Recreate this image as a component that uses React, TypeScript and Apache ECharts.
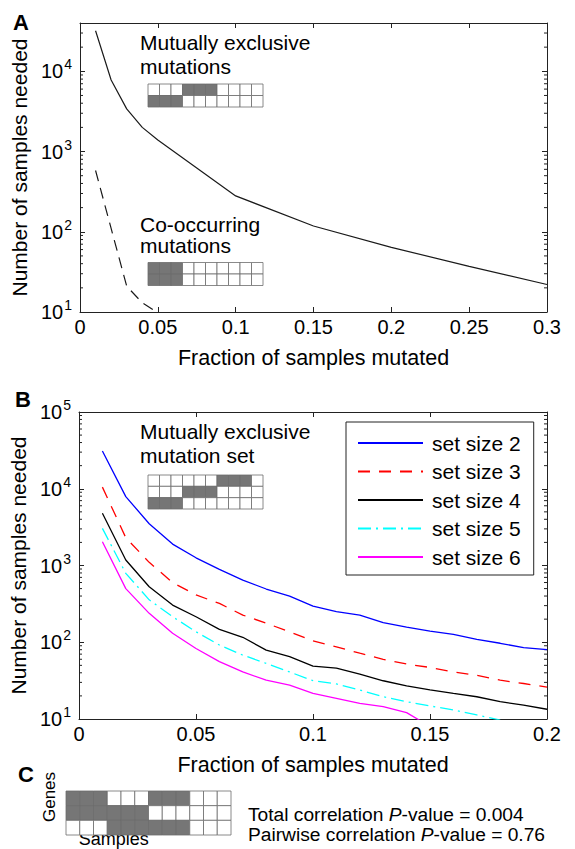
import React, { useEffect, useRef } from 'react';
import * as echarts from 'echarts';

const FONT = '"Liberation Sans", Arial, Helvetica, sans-serif';
const AX = '#222222';

// ---------- Panel A ----------
const fracExclusiveA = [0.01, 0.02, 0.03, 0.04, 0.05, 0.1, 0.15, 0.2, 0.25, 0.3];
const exclusiveA = [32000, 7800, 3400, 2000, 1390, 280, 118, 64, 37, 22];
const fracCoA = [0.01, 0.02, 0.03, 0.04, 0.05];
const cooccurA = [580, 110, 21, 13, 9.8];
const minorTicksA = [20, 30, 40, 50, 60, 70, 80, 90, 200, 300, 400, 500, 600, 700, 800, 900,
  2000, 3000, 4000, 5000, 6000, 7000, 8000, 9000, 20000, 30000];

// ---------- Panel B ----------
const fracB = [0.01, 0.02, 0.03, 0.04, 0.05, 0.06, 0.07, 0.08, 0.09, 0.1,
  0.11, 0.12, 0.13, 0.14, 0.15, 0.16, 0.17, 0.18, 0.19, 0.2];
const setNames = ['set size 2', 'set size 3', 'set size 4', 'set size 5', 'set size 6'];
const size2 = [31000, 7900, 3500, 1900, 1260, 890, 645, 494, 400, 296, 250, 226, 180, 157, 140, 127, 109, 97, 85, 80];
const size3 = [10500, 2300, 1100, 600, 413, 321, 226, 177, 137, 104, 87, 72, 60, 52, 47, 41, 37, 32, 29, 26];
const size4 = [4800, 1180, 528, 305, 215, 147, 116, 79, 65, 49, 46, 38.5, 31.5, 27, 24, 21.6, 19.5, 16.8, 15.2, 13.4];
const size5 = [3050, 790, 357, 215, 137, 92, 68, 53, 41, 31.6, 28.6, 23.9, 19.5, 16.8, 14.8, 13.1, 11.3, 9.7];
const size6 = [2040, 500, 238, 131, 83, 56, 41, 32, 27.7, 21.6, 18.6, 16, 14.5, 12.1, 8];
const minorTicksB = [20, 30, 40, 50, 60, 70, 80, 90, 200, 300, 400, 500, 600, 700, 800, 900,
  2000, 3000, 4000, 5000, 6000, 7000, 8000, 9000, 20000, 30000, 40000, 50000, 60000, 70000, 80000, 90000];

// ---------- Mutation matrices ----------
const matExclusiveA = [
  [0, 0, 0, 1, 1, 1, 0, 0, 0, 0],
  [1, 1, 1, 0, 0, 0, 0, 0, 0, 0],
];
const matCoA = [
  [1, 1, 1, 0, 0, 0, 0, 0, 0, 0],
  [1, 1, 1, 0, 0, 0, 0, 0, 0, 0],
];
const matB = [
  [0, 0, 0, 0, 0, 0, 1, 1, 1, 0],
  [0, 0, 0, 1, 1, 1, 0, 0, 0, 0],
  [1, 1, 1, 0, 0, 0, 0, 0, 0, 0],
];
const matC = [
  [1, 1, 1, 0, 0, 0, 1, 1, 1, 0, 0, 0],
  [1, 1, 1, 1, 1, 1, 0, 0, 0, 0, 0, 0],
  [0, 0, 0, 1, 1, 1, 1, 1, 1, 0, 0, 0],
];

const zip = (xs: number[], ys: number[]) => ys.map((y, i) => [xs[i], y]);

const xFmt = (v: number) => String(Number(v.toFixed(2)));
const logFmt = (v: number) => {
  const l = Math.log10(v);
  const e = Math.round(l);
  if (Math.abs(l - e) > 1e-6) return '';
  return '{b|10}{s|' + e + '}';
};

const axisLineStyle = { color: AX, width: 1 };

function valueX(grid: number, min: number, max: number, top: boolean, name?: string, gap = 35): any {
  return {
    type: 'value', gridIndex: grid, min, max, interval: 0.05, position: top ? 'top' : 'bottom',
    axisLine: { show: true, onZero: false, lineStyle: axisLineStyle },
    axisTick: { show: true, inside: true, length: 5, lineStyle: axisLineStyle },
    splitLine: { show: false },
    axisLabel: top ? { show: false } : { show: true, margin: 5, fontSize: 20, color: '#000', fontFamily: FONT, formatter: xFmt },
    name: top ? undefined : name, nameLocation: 'middle', nameGap: gap,
    nameTextStyle: { fontSize: 21.5, color: '#000', fontFamily: FONT },
  };
}

function logY(grid: number, min: number, max: number, right: boolean, name?: string): any {
  return {
    type: 'log', logBase: 10, gridIndex: grid, min, max, position: right ? 'right' : 'left',
    axisLine: { show: true, onZero: false, lineStyle: axisLineStyle },
    axisTick: { show: true, inside: true, length: 5, lineStyle: axisLineStyle },
    splitLine: { show: false },
    minorTick: { show: false },
    axisLabel: right ? { show: false } : {
      show: true, margin: 8, color: '#000', fontFamily: FONT, formatter: logFmt,
      rich: {
        b: { fontSize: 20, fontFamily: FONT, color: '#000', lineHeight: 22 },
        s: { fontSize: 14, fontFamily: FONT, color: '#000', padding: [0, 0, 14, 1] },
      },
    },
    name: right ? undefined : name, nameLocation: 'middle', nameGap: 47,
    nameTextStyle: { fontSize: 21, color: '#000', fontFamily: FONT },
  };
}

function catAxis(grid: number, n: number, isY: boolean): any {
  return {
    type: 'category', gridIndex: grid, show: false, inverse: isY,
    data: Array.from({ length: n }, (_, i) => String(i)),
  };
}

const minorTickRender = (params: any, api: any) => {
  const cs = params.coordSys;
  const y = api.coord([api.value(0), api.value(1)])[1];
  const st = { stroke: AX, lineWidth: 1 };
  return {
    type: 'group',
    children: [
      { type: 'line', shape: { x1: cs.x, y1: y, x2: cs.x + 3, y2: y }, style: st },
      { type: 'line', shape: { x1: cs.x + cs.width, y1: y, x2: cs.x + cs.width - 3, y2: y }, style: st },
    ],
  };
};

const cellRender = (params: any, api: any) => {
  const c = api.coord([api.value(0), api.value(1)]);
  const s = api.size([1, 1]);
  return {
    type: 'rect',
    shape: { x: c[0] - s[0] / 2, y: c[1] - s[1] / 2, width: s[0], height: s[1] },
    style: { fill: api.value(2) ? '#767676' : '#ffffff', stroke: '#6c6c6c', lineWidth: 0.8 },
  };
};

const matData = (m: number[][]) => {
  const out: number[][] = [];
  m.forEach((row, r) => row.forEach((v, c) => out.push([c, r, v])));
  return out;
};

function txt(text: string, x: number, y: number, size: number, extra: any = {}): any {
  return {
    type: 'text', x, y, silent: true,
    style: { text, fontSize: size, fontFamily: FONT, fill: '#000', textAlign: 'left', textVerticalAlign: 'middle', ...extra },
  };
}

export default function App() {
  const ref = useRef<HTMLDivElement>(null);
  useEffect(() => {
    if (!ref.current) return;
    const chart = echarts.init(ref.current, null, { renderer: 'svg', width: 575, height: 849 });
    const lineBase = { type: 'line', showSymbol: false, symbol: 'none', smooth: false, silent: true };
    const pStyle = { fontSize: 19.2, lineHeight: 17, rich: { i: { fontStyle: 'italic', fontSize: 19.2, lineHeight: 17, fontFamily: FONT, fill: '#000' } } };
    const option: any = {
      animation: false,
      backgroundColor: '#ffffff',
      grid: [
        { left: 80, top: 23, width: 467, height: 289 },
        { left: 79, top: 412, width: 468, height: 307 },
        { left: 148, top: 84, width: 115, height: 23 },
        { left: 148, top: 262.5, width: 115, height: 23 },
        { left: 148, top: 475, width: 115, height: 34 },
        { left: 66, top: 791, width: 165, height: 44 },
      ],
      xAxis: [
        valueX(0, 0, 0.3, false, 'Fraction of samples mutated'),
        valueX(0, 0, 0.3, true),
        valueX(1, 0, 0.2, false, 'Fraction of samples mutated'),
        valueX(1, 0, 0.2, true),
        catAxis(2, 10, false),
        catAxis(3, 10, false),
        catAxis(4, 10, false),
        catAxis(5, 12, false),
      ],
      yAxis: [
        logY(0, 10, 40000, false, 'Number of samples needed'),
        logY(0, 10, 40000, true),
        logY(1, 10, 100000, false, 'Number of samples needed'),
        logY(1, 10, 100000, true),
        catAxis(2, 2, true),
        catAxis(3, 2, true),
        catAxis(4, 3, true),
        catAxis(5, 3, true),
      ],
      legend: {
        data: setNames, orient: 'vertical', left: 346, top: 422,
        padding: [10.5, 13, 7.5, 11], itemWidth: 65, itemHeight: 14, itemGap: 7.5,
        borderColor: AX, borderWidth: 1, backgroundColor: '#ffffff', selectedMode: false,
        itemStyle: { color: 'rgba(0,0,0,0)', borderColor: 'rgba(0,0,0,0)', borderWidth: 0, opacity: 0 },
        textStyle: { fontSize: 21, color: '#000', fontFamily: FONT, lineHeight: 21, padding: [0, 0, 0, 4] },
      },
      series: [
        { ...lineBase, name: 'exclusiveA', xAxisIndex: 0, yAxisIndex: 0, data: zip(fracExclusiveA, exclusiveA),
          lineStyle: { color: '#1a1a1a', width: 1.2, type: 'solid' } },
        { ...lineBase, name: 'cooccurA', xAxisIndex: 0, yAxisIndex: 0, data: zip(fracCoA, cooccurA),
          lineStyle: { color: '#1a1a1a', width: 1.2, type: [11, 7] } },
        { type: 'custom', xAxisIndex: 0, yAxisIndex: 0, silent: true, clip: false, renderItem: minorTickRender,
          data: minorTicksA.map((v) => [0, v]) },
        { ...lineBase, name: setNames[0], xAxisIndex: 2, yAxisIndex: 2, data: zip(fracB, size2),
          itemStyle: { color: '#0000ff' }, lineStyle: { color: '#0000ff', width: 1.3, type: 'solid' } },
        { ...lineBase, name: setNames[1], xAxisIndex: 2, yAxisIndex: 2, data: zip(fracB, size3),
          itemStyle: { color: '#ff0000' }, lineStyle: { color: '#ff0000', width: 1.3, type: [12, 9] } },
        { ...lineBase, name: setNames[2], xAxisIndex: 2, yAxisIndex: 2, data: zip(fracB, size4),
          itemStyle: { color: '#000000' }, lineStyle: { color: '#000000', width: 1.3, type: 'solid' } },
        { ...lineBase, name: setNames[3], xAxisIndex: 2, yAxisIndex: 2, data: zip(fracB, size5),
          itemStyle: { color: '#00ffff' }, lineStyle: { color: '#00ffff', width: 1.3, type: [13, 5, 2, 5] } },
        { ...lineBase, name: setNames[4], xAxisIndex: 2, yAxisIndex: 2, data: zip(fracB, size6),
          itemStyle: { color: '#ff00ff' }, lineStyle: { color: '#ff00ff', width: 1.3, type: 'solid' } },
        { type: 'custom', xAxisIndex: 2, yAxisIndex: 2, silent: true, clip: false, renderItem: minorTickRender,
          data: minorTicksB.map((v) => [0, v]) },
        { type: 'custom', xAxisIndex: 4, yAxisIndex: 4, silent: true, renderItem: cellRender, data: matData(matExclusiveA) },
        { type: 'custom', xAxisIndex: 5, yAxisIndex: 5, silent: true, renderItem: cellRender, data: matData(matCoA) },
        { type: 'custom', xAxisIndex: 6, yAxisIndex: 6, silent: true, renderItem: cellRender, data: matData(matB) },
        { type: 'custom', xAxisIndex: 7, yAxisIndex: 7, silent: true, renderItem: cellRender, data: matData(matC) },
      ],
      graphic: [
        txt('A', 13, 22.5, 22, { fontWeight: 'bold' }),
        txt('Mutually exclusive', 140, 42.7, 21),
        txt('mutations', 140, 66.7, 21),
        txt('Co-occurring', 140, 224.4, 21),
        txt('mutations', 140, 245.7, 21),
        txt('B', 15, 399.5, 22, { fontWeight: 'bold' }),
        txt('Mutually exclusive', 140, 431.7, 21),
        txt('mutation set', 140, 455.7, 21),
        txt('C', 18, 774.5, 22, { fontWeight: 'bold' }),
        { type: 'text', x: 49, y: 797, rotation: Math.PI / 2, silent: true,
          style: { text: 'Genes', fontSize: 17, fontFamily: FONT, fill: '#000', textAlign: 'center', textVerticalAlign: 'middle' } },
        txt('Samples', 113.7, 838.5, 18, { textAlign: 'center', lineHeight: 17 }),
        txt('Total correlation {i|P}-value = 0.004', 248, 814.3, 19.2, pStyle),
        txt('Pairwise correlation {i|P}-value = 0.76', 248, 834, 19.2, pStyle),
      ],
    };
    chart.setOption(option);
    return () => chart.dispose();
  }, []);
  return (
    <div
      ref={ref}
      style={{ position: 'absolute', left: 0, top: 0, width: 575, height: 849, background: '#fff' }}
    />
  );
}
